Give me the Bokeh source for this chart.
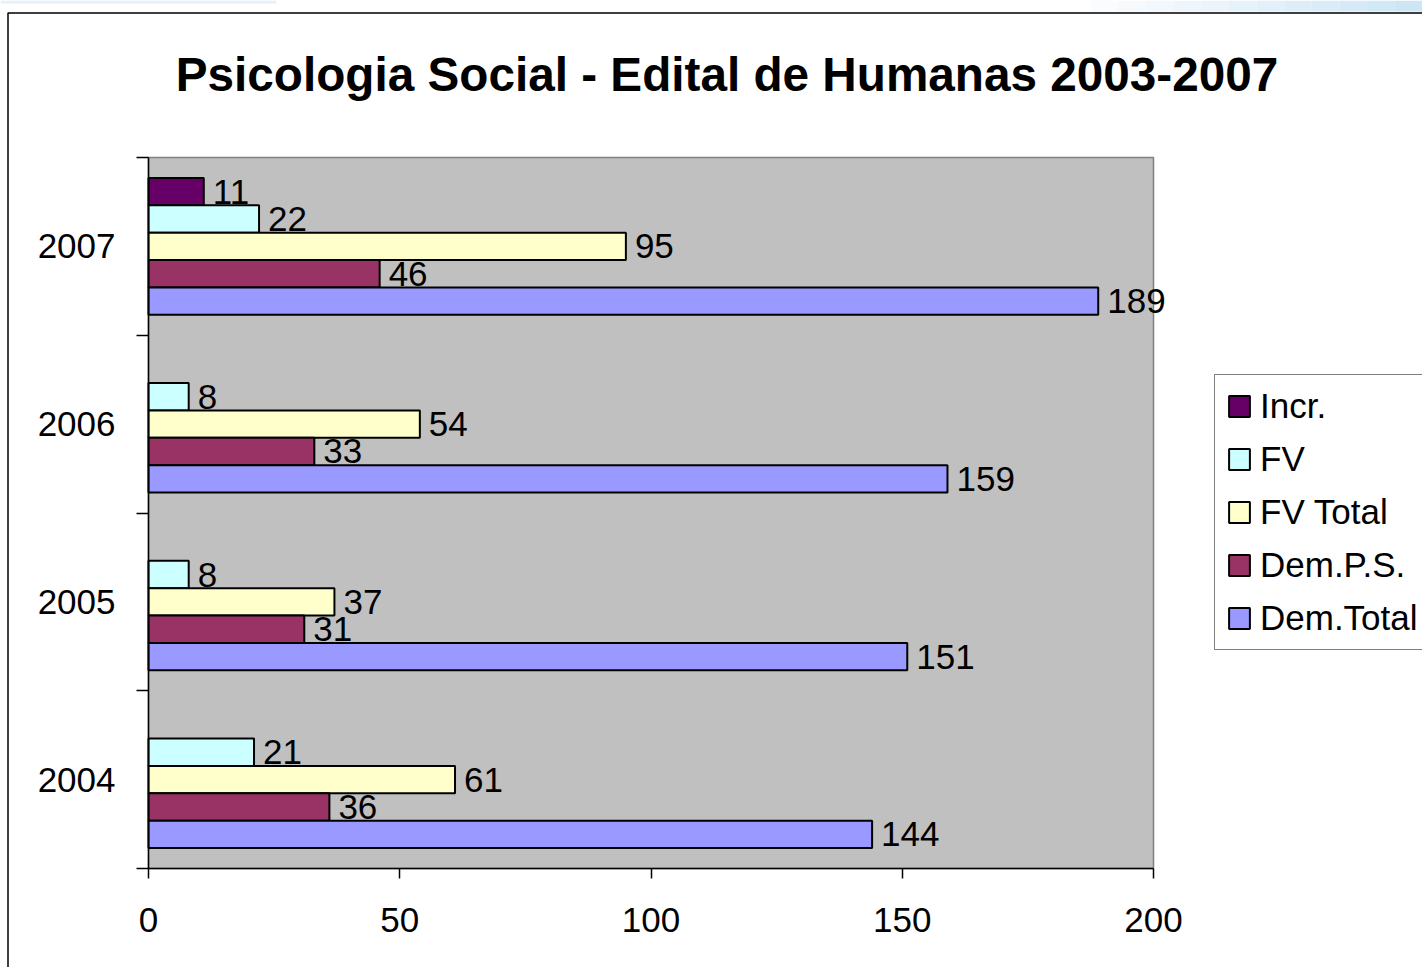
from bokeh.plotting import figure
from bokeh.models import (ColumnDataSource, FixedTicker, Legend, LegendItem, Label,
                          BoxAnnotation, Range1d)
from bokeh.embed import file_html
from bokeh.resources import INLINE

# ---------------- data ----------------
years = ["2004", "2005", "2006", "2007"]
series = ["Incr.", "FV", "FV Total", "Dem.P.S.", "Dem.Total"]
incr = [0, 0, 0, 11]
fv = [21, 8, 8, 22]
fv_total = [61, 37, 54, 95]
dem_ps = [36, 31, 33, 46]
dem_total = [144, 151, 159, 189]
colors = ["#660066", "#CCFFFF", "#FFFFCC", "#993366", "#9999FF"]
x_ticks = [0, 50, 100, 150, 200]
title_text = "Psicologia Social - Edital de Humanas 2003-2007"

FONT = "Liberation Sans"
FS = "35px"
W, H = 1422, 967
# layout (pixels): gray plot area inside the canvas
PLOT_L, PLOT_R, PLOT_T, PLOT_B = 148, 1153, 157, 868

# the frame covers the whole canvas; axes are pinned to x=0 / y=0
ux = x_ticks[-1] / (PLOT_R - PLOT_L)          # data units per pixel (x)
uy = len(years) / (PLOT_B - PLOT_T)           # data units per pixel (y)
x_range = Range1d(-PLOT_L * ux, (W - PLOT_L) * ux)
y_range = Range1d(-(H - PLOT_B) * uy, PLOT_B * uy)

p = figure(width=W, height=H, output_backend="svg", toolbar_location=None,
           x_range=x_range, y_range=y_range,
           min_border_left=0, min_border_right=0,
           min_border_top=0, min_border_bottom=0)
p.title.visible = False
p.background_fill_color = "white"
p.border_fill_color = "white"
p.outline_line_color = None
p.xgrid.visible = False
p.ygrid.visible = False

# plot area
p.quad(left=x_ticks[0], right=x_ticks[-1], bottom=0, top=len(years),
       fill_color="#C0C0C0", line_color="#808080", line_width=1.5)

# ---------------- bars ----------------
bar_h = 1 / 6.5
values = [incr, fv, fv_total, dem_ps, dem_total]
items = []
n = len(series)
for k, (name, vs, c) in enumerate(zip(series, values, colors)):
    off = ((n - 1) / 2 - k) * bar_h
    ys = [i + 0.5 + off for i in range(len(years)) if vs[i] > 0]
    xs = [v for v in vs if v > 0]
    src = ColumnDataSource(dict(y=ys, right=xs))
    r = p.hbar(y="y", left=0, right="right", height=bar_h, fill_color=c,
               line_color="black", line_width=2, source=src)
    for xv, yv in zip(xs, ys):
        p.add_layout(Label(x=xv, y=yv, text=str(xv), x_offset=9,
                           text_baseline="middle", text_align="left",
                           text_font=FONT, text_font_size=FS, text_color="black"))
    items.append(LegendItem(label=name, renderers=[r]))

# ---------------- axes ----------------
yax = p.yaxis[0]
yax.fixed_location = 0
yax.bounds = (0, len(years))
yax.ticker = FixedTicker(ticks=[i + 0.5 for i in range(len(years))],
                         minor_ticks=list(range(len(years) + 1)))
yax.major_label_overrides = {i + 0.5: y for i, y in enumerate(years)}
yax.major_tick_line_color = None
yax.major_tick_out = 0
yax.major_tick_in = 0
yax.minor_tick_line_color = "black"
yax.minor_tick_line_width = 1.5
yax.minor_tick_out = 12
yax.minor_tick_in = 0
yax.axis_line_color = "black"
yax.axis_line_width = 1.5
yax.major_label_text_font = FONT
yax.major_label_text_font_size = FS
yax.major_label_text_color = "black"
yax.major_label_standoff = 21

xax = p.xaxis[0]
xax.fixed_location = 0
xax.bounds = (x_ticks[0], x_ticks[-1])
xax.ticker = FixedTicker(ticks=x_ticks, minor_ticks=[])
xax.major_tick_line_color = "black"
xax.major_tick_line_width = 1.5
xax.major_tick_out = 10
xax.major_tick_in = 0
xax.minor_tick_line_color = None
xax.axis_line_color = "black"
xax.axis_line_width = 1.5
xax.major_label_text_font = FONT
xax.major_label_text_font_size = FS
xax.major_label_text_color = "black"
xax.major_label_standoff = 29

# ---------------- legend ----------------
legend = Legend(items=items, location=(1214, H - 650),
                label_text_font=FONT, label_text_font_size=FS,
                label_text_color="black",
                glyph_width=26, glyph_height=26, label_standoff=8,
                spacing=13, padding=11, margin=0,
                border_line_color="black", border_line_width=1,
                background_fill_color="white", background_fill_alpha=1)
p.add_layout(legend)

# ---------------- title ----------------
title = Label(x=726.5, y=H - 92 + 18, x_units="screen", y_units="screen",
              text=title_text, text_align="center", text_baseline="alphabetic",
              text_font=FONT, text_font_size="47.7px", text_font_style="bold",
              text_color="black")
p.add_layout(title)

# ---------------- outer chart border & slide decoration ----------------
p.add_layout(BoxAnnotation(left=7.5, top=12.5, right=W + 20, bottom=H + 20,
                           left_units="canvas", right_units="canvas",
                           top_units="canvas", bottom_units="canvas",
                           fill_alpha=0, line_color="black", line_alpha=1,
                           line_width=1.5, level="overlay"))
p.add_layout(BoxAnnotation(left=0, top=0, right=276, bottom=3,
                           left_units="canvas", right_units="canvas",
                           top_units="canvas", bottom_units="canvas",
                           fill_color="#E4F1FA", fill_alpha=1, line_alpha=0,
                           level="overlay"))
steps = 12
for s in range(steps):
    t = (s + 1) / steps
    r_ = int(255 + (205 - 255) * t)
    g_ = int(255 + (230 - 255) * t)
    b_ = int(255 + (245 - 255) * t)
    x0 = 1090 + s * (W - 1090) / steps
    x1 = 1090 + (s + 1) * (W - 1090) / steps
    p.add_layout(BoxAnnotation(left=x0, right=x1, top=0, bottom=11,
                               left_units="canvas", right_units="canvas",
                               top_units="canvas", bottom_units="canvas",
                               fill_color=f"#{r_:02x}{g_:02x}{b_:02x}", fill_alpha=1,
                               line_alpha=0, level="underlay"))

open("out.html", "w").write(file_html(p, INLINE))
